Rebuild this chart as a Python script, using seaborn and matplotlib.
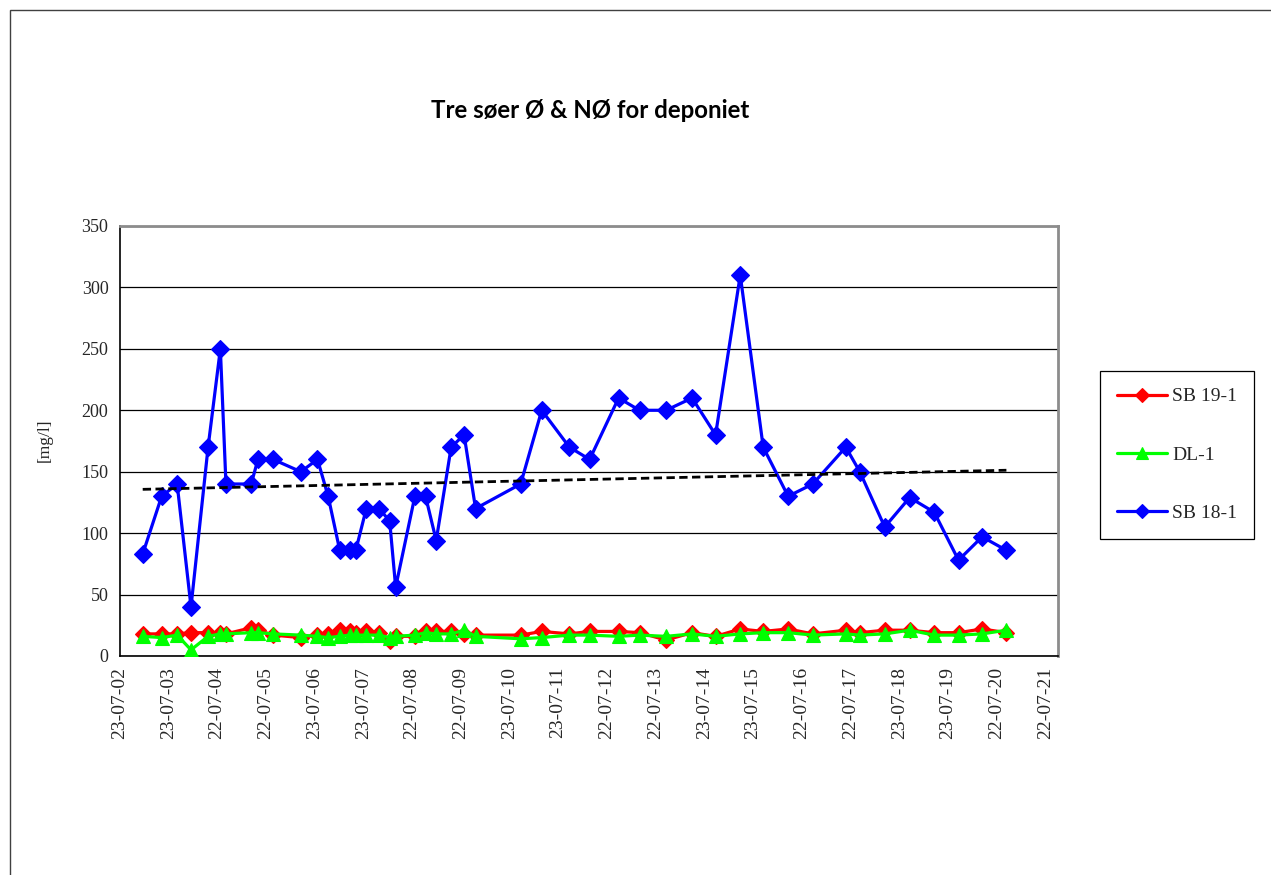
import numpy as np
import pandas as pd
import matplotlib
matplotlib.use("Agg")
import matplotlib.pyplot as plt
import matplotlib.dates as mdates
from matplotlib.patches import Rectangle
import seaborn as sns

# ---------------- data ----------------
dates = [
    "2003-01-13", "2003-06-04", "2003-09-28", "2004-01-10", "2004-05-17",
    "2004-08-17", "2004-09-28", "2005-04-05", "2005-05-26", "2005-09-17",
    "2006-04-12", "2006-08-15", "2006-11-03", "2007-01-29", "2007-04-14",
    "2007-05-29", "2007-08-16", "2007-11-19", "2008-02-07", "2008-03-23",
    "2008-08-14", "2008-11-02", "2009-01-21", "2009-05-13", "2009-08-18",
    "2009-11-12", "2010-10-16", "2011-03-23", "2011-10-16", "2012-03-16",
    "2012-10-19", "2013-03-25", "2013-10-10", "2014-04-23", "2014-10-16",
    "2015-04-19", "2015-10-08", "2016-04-12", "2016-10-14", "2017-06-18",
    "2017-10-01", "2018-04-06", "2018-10-10", "2019-04-12", "2019-10-11",
    "2020-04-05", "2020-10-04",
]
sb19_1 = [18, 18, 18, 19, 19, 19, 18, 23, 21, 17,
          15, 17, 18, 21, 20, 19, 20, 19, 12, 16,
          16, 20, 20, 20, 18, 17, 17, 20, 18, 20,
          20, 19, 13, 19, 16, 22, 20, 22, 18, 21,
          19, 21, 21, 19, 19, 22, 19]
dl_1 = [16, 15, 17, 5, 16, 18, 18, 19, 19, 18,
        17, 16, 15, 16, 17, 17, 17, 17, 15, 16,
        17, 19, 18, 18, 21, 16, 14, 15, 17, 17,
        16, 17, 16, 18, 16, 18, 19, 19, 17, 18,
        17, 18, 21, 17, 17, 18, 21]
sb18_1 = [83, 130, 140, 40, 170, 250, 140, 140, 160, 160,
          150, 160, 130, 86, 86, 86, 120, 120, 110, 56,
          130, 130, 94, 170, 180, 120, 140, 200, 170, 160,
          210, 200, 200, 210, 180, 310, 170, 130, 140, 170,
          150, 105, 129, 117, 78, 97, 86]

series_names = ["SB 19-1", "DL-1", "SB 18-1"]
series_colors = ["#FF0000", "#00FF00", "#0000FF"]
title_text = "Tre søer Ø & NØ for deponiet"
y_label = "[mg/l]"
y_ticks = [0, 50, 100, 150, 200, 250, 300, 350]
x_tick_start = "2002-07-23"
x_tick_count = 20
x_tick_step_days = 365.25

# ---------------- figure ----------------
sns.set_style("white")
plt.rcParams["font.family"] = ["Liberation Serif", "DejaVu Serif"]

W, H = 1271, 875
fig = plt.figure(figsize=(W / 100, H / 100), dpi=100)
fig.patch.set_facecolor("white")

# outer chart border
fig.add_artist(Rectangle((10 / W, -0.2), 1.5, 1.2 - 10 / H,
                         transform=fig.transFigure, fill=False,
                         edgecolor="#404040", linewidth=1.0, clip_on=False))

left, right, top, bottom = 119.5, 1058, 226, 656
ax = fig.add_axes([left / W, 1 - bottom / H, (right - left) / W, (bottom - top) / H])

df = pd.DataFrame({
    "date": pd.to_datetime(dates),
    "SB 19-1": sb19_1,
    "DL-1": dl_1,
    "SB 18-1": sb18_1,
})

markers = {"SB 19-1": "D", "DL-1": "^", "SB 18-1": "D"}
msizes = {"SB 19-1": 8.5, "DL-1": 10.5, "SB 18-1": 9.5}
for i, (name, col) in enumerate(zip(series_names, series_colors)):
    sns.lineplot(data=df, x="date", y=name, ax=ax, color=col,
                 marker=markers[name], markersize=msizes[name],
                 markeredgecolor=col, markeredgewidth=0.8,
                 linewidth=2.3, label=name, zorder=3 + i)

# linear trend of SB 18-1
xnum = mdates.date2num(df["date"])
coef = np.polyfit(xnum, df["SB 18-1"].values, 1)
trend_df = pd.DataFrame({
    "date": [df["date"].iloc[0], df["date"].iloc[-1]],
    "trend": np.polyval(coef, [xnum[0], xnum[-1]]),
})
sns.lineplot(data=trend_df, x="date", y="trend", ax=ax, color="black",
             linewidth=2.0, linestyle=(0, (3, 1.6)), zorder=10, legend=False)

leg = ax.get_legend()
if leg is not None:
    leg.remove()

# axes styling
tick_nums = mdates.date2num(pd.Timestamp(x_tick_start)) + np.arange(x_tick_count) * x_tick_step_days
ax.set_xticks(tick_nums)
ax.xaxis.set_major_formatter(mdates.DateFormatter("%d-%m-%y"))
ax.set_xlim(tick_nums[0], tick_nums[-1] + 95)
ax.set_ylim(0, 350)
ax.set_yticks(y_ticks)
ax.set_xlabel("")
ax.set_ylabel("")

ax.yaxis.grid(True, color="black", linewidth=0.9)
ax.xaxis.grid(False)
ax.set_axisbelow(True)

for s in ["left", "bottom"]:
    ax.spines[s].set_color("black")
    ax.spines[s].set_linewidth(1.2)
for s in ["top", "right"]:
    ax.spines[s].set_color("#8c8c8c")
    ax.spines[s].set_linewidth(2.0)

ax.tick_params(axis="both", which="major", direction="out", length=5,
               width=1, color="black", pad=3)
ax.tick_params(axis="y", labelsize=13)
ax.tick_params(axis="x", labelrotation=90, labelsize=14)

# title and y label
fig.text(590 / W, 1 - 110 / H, title_text, ha="center", va="center",
         fontsize=17.3, fontweight="bold", color="black",
         family=["Lato", "DejaVu Sans"])
fig.text(45 / W, 1 - 440 / H, y_label, ha="center", va="center",
         rotation=90, fontsize=12.5)

# legend
handles = ax.get_lines()[:3]
lg = fig.legend(handles=handles, labels=series_names, loc="center",
                bbox_to_anchor=((1101 + 1253) / 2 / W, 1 - (369 + 541) / 2 / H),
                frameon=True, fancybox=False, shadow=False, edgecolor="black",
                framealpha=1, fontsize=14, labelspacing=2.1, borderpad=0.85,
                handlelength=2.6, handletextpad=0.25, borderaxespad=0,
                markerscale=0.8)
lg.get_frame().set_linewidth(0.9)

fig.savefig("out.png", dpi=100, facecolor="white")
